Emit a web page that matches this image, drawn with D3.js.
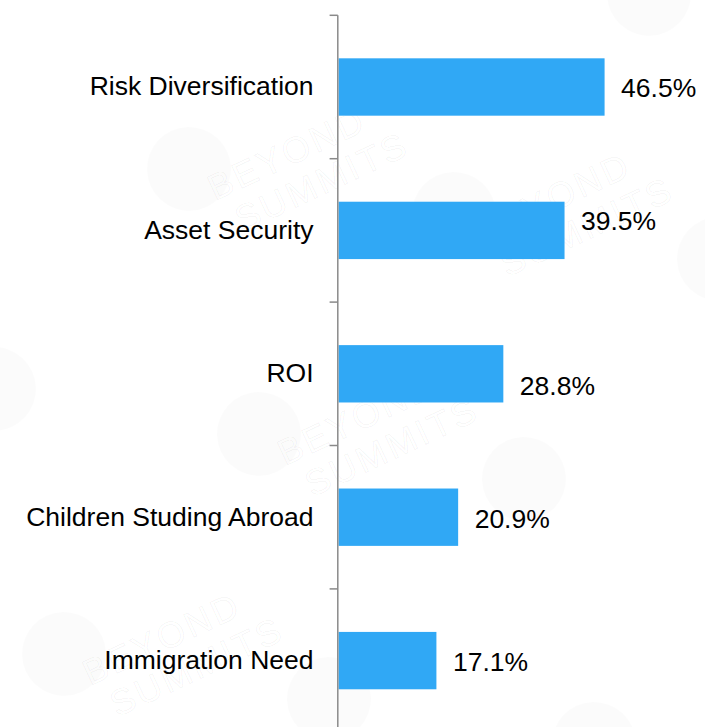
<!DOCTYPE html>
<html>
<head>
<meta charset="utf-8">
<script src="https://cdn.jsdelivr.net/npm/d3@7"></script>
<style>
  html, body { margin: 0; padding: 0; background: #fff; }
  svg { display: block; }
  text { font-family: Arial, "Liberation Sans", sans-serif; }
</style>
</head>
<body>
<div id="chart"></div>
<script>
// Reasons for overseas investment (share of respondents, %)
const categories = [
  "Risk Diversification",
  "Asset Security",
  "ROI",
  "Children Studing Abroad",
  "Immigration Need"
];
const values = [46.5, 39.5, 28.8, 20.9, 17.1];
const valueLabels = ["46.5%", "39.5%", "28.8%", "20.9%", "17.1%"];
// hand-placed vertical nudges for the value labels (px)
const labelNudge = [0, -10.5, 11, 0, 0.5];

const W = 705, H = 727;
const axisX = 338.6;
const topY = 15.3, step = 143.4;
const fontSize = 26.5;

const svg = d3.select("#chart").append("svg")
  .attr("width", W).attr("height", H);

// faint background brand mark, tiled diagonally
const wm = svg.append("g").attr("pointer-events", "none");
const base = [97, 385], v1 = [195, -220], v2 = [265, 45];
const inside = (px, py, m) => px > m && px < W - m && py > m * 0.6 && py < H - m * 0.6;
for (let i = -3; i <= 5; i++) {
  for (let j = -3; j <= 4; j++) {
    const cx = base[0] + i * v1[0] + j * v2[0];
    const cy = base[1] + i * v1[1] + j * v2[1];
    if (cx < -250 || cx > W + 250 || cy < -150 || cy > H + 150) continue;
    const g = wm.append("g").attr("transform", `translate(${cx},${cy}) rotate(-25)`);
    g.append("circle").attr("cx", -95).attr("cy", -40).attr("r", 42)
      .attr("fill", "#000").attr("opacity", 0.016);
    if (!inside(cx, cy, 110)) continue;
    g.append("text").attr("x", 0).attr("y", 0).attr("text-anchor", "middle")
      .attr("font-size", 36).attr("letter-spacing", 3)
      .attr("fill", "none").attr("stroke", "#000").attr("stroke-opacity", 0.04).attr("stroke-width", 1.2)
      .text("BEYOND");
    g.append("text").attr("x", 20).attr("y", 40).attr("text-anchor", "middle")
      .attr("font-size", 36).attr("letter-spacing", 3)
      .attr("fill", "none").attr("stroke", "#000").attr("stroke-opacity", 0.04).attr("stroke-width", 1.2)
      .text("SUMMITS");
  }
}

const y = d3.scaleBand()
  .domain(categories)
  .range([topY, topY + step * categories.length])
  .paddingInner(0.6)
  .paddingOuter(0.3);

const x = d3.scaleLinear()
  .domain([0, 50])
  .range([axisX, axisX + 286]);

// bars
svg.append("g").selectAll("rect")
  .data(categories)
  .join("rect")
  .attr("x", x(0))
  .attr("y", d => y(d))
  .attr("width", (d, i) => x(values[i]) - x(0))
  .attr("height", y.bandwidth())
  .attr("fill", "#30a8f5");

// category axis: vertical line with ticks between categories
const axis = svg.append("g");
axis.append("line")
  .attr("x1", axisX - 0.8).attr("x2", axisX - 0.8)
  .attr("y1", topY).attr("y2", y.range()[1])
  .attr("stroke", "#8a8a8a").attr("stroke-width", 1.5);
const tickYs = categories.map(d => y(d) - y.step() * y.paddingOuter()).concat([y.range()[1]]);
axis.selectAll("line.tick")
  .data(tickYs)
  .join("line")
  .attr("class", "tick")
  .attr("x1", axisX - 9).attr("x2", axisX - 0.8)
  .attr("y1", d => d).attr("y2", d => d)
  .attr("stroke", "#8a8a8a").attr("stroke-width", 1.5);

// category labels
svg.append("g").selectAll("text")
  .data(categories)
  .join("text")
  .attr("x", 313.5)
  .attr("y", d => y(d) + y.bandwidth() / 2 + 8.3)
  .attr("text-anchor", "end")
  .attr("font-size", fontSize)
  .attr("fill", "#000")
  .text(d => d);

// value labels
svg.append("g").selectAll("text")
  .data(categories)
  .join("text")
  .attr("x", (d, i) => x(values[i]) + 16.5)
  .attr("y", (d, i) => y(d) + y.bandwidth() / 2 + 10.3 + labelNudge[i])
  .attr("font-size", fontSize)
  .attr("fill", "#000")
  .text((d, i) => valueLabels[i]);
</script>
</body>
</html>
